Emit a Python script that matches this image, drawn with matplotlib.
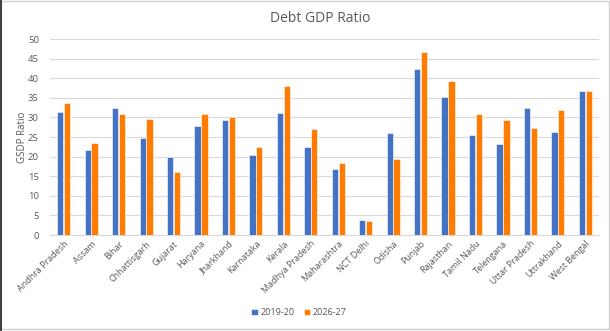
import numpy as np
import matplotlib.pyplot as plt
from matplotlib.patches import Rectangle

plt.rcParams['font.family'] = ['Open Sans', 'DejaVu Sans']

# state-wise debt to GSDP ratio
states = ["Andhra Pradesh", "Assam", "Bihar", "Chhattisgarh", "Gujarat", "Haryana",
          "Jharkhand", "Karnataka", "Kerala", "Madhya Pradesh", "Maharashtra",
          "NCT Delhi", "Odisha", "Punjab", "Rajasthan", "Tamil Nadu", "Telengana",
          "Uttar Pradesh", "Uttrakhand", "West Bengal"]
ratio_2019 = [31.5, 21.6, 32.3, 24.7, 20.0, 27.7, 29.3, 20.5, 31.1, 22.4,
              16.8, 3.9, 26.1, 42.3, 35.1, 25.5, 23.3, 32.3, 26.4, 36.7]
ratio_2026 = [33.7, 23.5, 30.9, 29.5, 16.2, 30.9, 30.0, 22.4, 37.9, 27.0,
              18.5, 3.7, 19.4, 46.6, 39.2, 30.8, 29.4, 27.2, 31.9, 36.7]

blue = "#4472C4"
orange = "#FF7C00"
grey_text = "#595959"

fig = plt.figure(figsize=(6.1, 3.31), dpi=100)
ax = fig.add_axes([0.082, 0.29, 0.9, 0.592])

x = np.arange(len(states))
w = 0.23
ax.bar(x - w / 2 - 0.01, ratio_2019, w, color=blue, edgecolor="white", linewidth=0.4,
       label="2019-20", zorder=3)
ax.bar(x + w / 2 + 0.01, ratio_2026, w, color=orange, edgecolor="white", linewidth=0.4,
       label="2026-27", zorder=3)

ax.set_xlim(-0.5, len(states) - 0.5)
ax.set_ylim(0, 50)
ax.set_yticks(range(0, 51, 5))
ax.grid(axis="y", color="#D9D9D9", linewidth=0.8, zorder=0)
for s in ["top", "right", "left"]:
    ax.spines[s].set_visible(False)
ax.spines["bottom"].set_color("#D9D9D9")

ax.set_xticks(x)
ax.set_xticklabels(states, rotation=45, ha="right", rotation_mode="anchor",
                   fontsize=6.5, color=grey_text)
ax.tick_params(axis="y", labelsize=6.8, labelcolor=grey_text, length=0, pad=8)
ax.tick_params(axis="x", length=0, pad=3)
ax.set_ylabel("GSDP Ratio", fontsize=7, color=grey_text, labelpad=0)

fig.text(0.525, 0.945, "Debt GDP Ratio", ha="center", va="center",
         fontsize=10, color=grey_text)

fig.legend(loc="center", bbox_to_anchor=(0.49, 0.055), ncol=2, frameon=False,
           fontsize=6.5, handlelength=0.7, handleheight=0.7, handletextpad=0.3,
           columnspacing=1.0, labelcolor=grey_text)

# chart frame
fig.patches.append(Rectangle((0.002, 0.006), 0.996, 0.99, transform=fig.transFigure,
                             fill=False, edgecolor="#D0D0D0", linewidth=1))
fig.patches.append(Rectangle((0, 0), 0.004, 1, transform=fig.transFigure,
                             color="#404040", linewidth=0))

fig.savefig("out.png", dpi=100)
